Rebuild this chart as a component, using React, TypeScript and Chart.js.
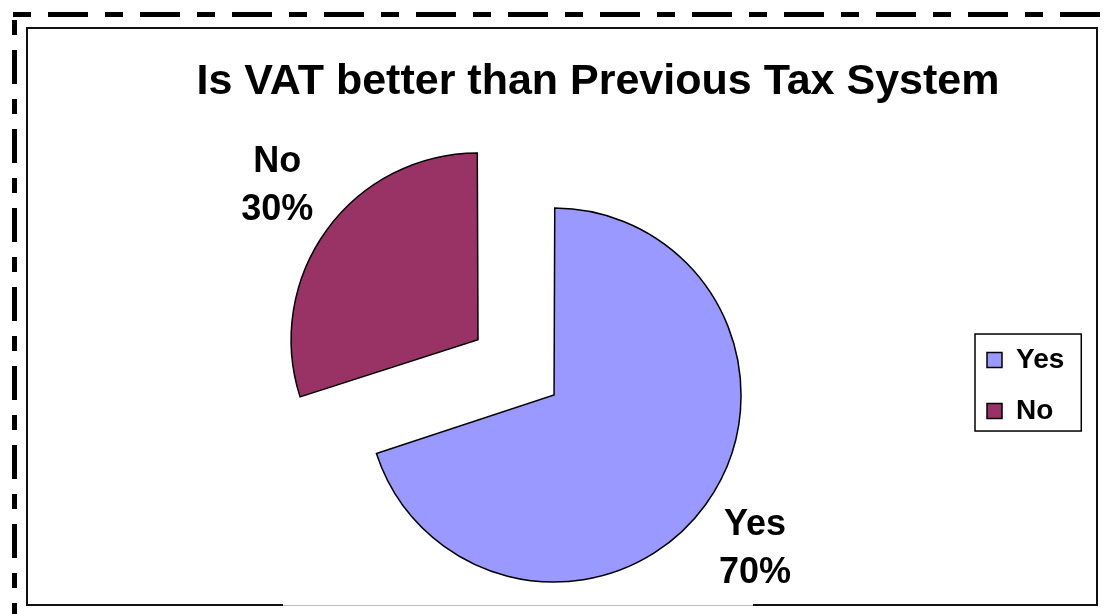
import React, { useEffect, useRef } from "react";
import { Chart, registerables } from "chart.js";

Chart.register(...registerables);

const chartTitle = "Is VAT better than Previous Tax System";
const categories = ["Yes", "No"];
const shares = [70, 30];
const sliceColors = ["#9999FF", "#993366"];
const sliceOffsets = [18, 358];

const FONT = '"Liberation Sans", Arial, Helvetica, sans-serif';

const framePlugin = {
  id: "frame",
  beforeDraw(chart: any) {
    const ctx = chart.ctx as CanvasRenderingContext2D;
    ctx.save();
    ctx.fillStyle = "#ffffff";
    ctx.fillRect(0, 0, chart.width, chart.height);
    // outer dashed frame
    ctx.strokeStyle = "#000000";
    ctx.lineWidth = 5;
    ctx.lineCap = "butt";
    ctx.setLineDash([18, 17, 40, 17]);
    ctx.beginPath();
    ctx.moveTo(13, 14.5);
    ctx.lineTo(1103, 14.5);
    ctx.stroke();
    ctx.setLineDash([15, 15, 34, 15]);
    ctx.beginPath();
    ctx.moveTo(14.5, 20);
    ctx.lineTo(14.5, 614);
    ctx.stroke();
    ctx.setLineDash([]);
    // inner box
    ctx.lineWidth = 2;
    ctx.strokeStyle = "#111111";
    ctx.beginPath();
    ctx.moveTo(283, 605);
    ctx.lineTo(27, 605);
    ctx.lineTo(27, 28);
    ctx.lineTo(1097, 28);
    ctx.lineTo(1097, 605);
    ctx.lineTo(753, 605);
    ctx.stroke();
    ctx.strokeStyle = "#bbbbbb";
    ctx.lineWidth = 1;
    ctx.beginPath();
    ctx.moveTo(283, 605.5);
    ctx.lineTo(753, 605.5);
    ctx.stroke();
    ctx.restore();
  },
};

const LABEL_GAP = 66;
const LABEL_TURN = 0.025;

const sliceLabelPlugin = {
  id: "sliceLabels",
  afterDatasetsDraw(chart: any) {
    const meta = chart.getDatasetMeta(0);
    const ctx = chart.ctx as CanvasRenderingContext2D;
    const data = chart.data.datasets[0].data as number[];
    const total = data.reduce((a, b) => a + b, 0);
    ctx.save();
    ctx.font = `bold 36px ${FONT}`;
    ctx.fillStyle = "#000000";
    ctx.textAlign = "center";
    ctx.textBaseline = "middle";
    meta.data.forEach((arc: any, i: number) => {
      const { x, y, startAngle, endAngle, outerRadius } = arc.getProps(
        ["x", "y", "startAngle", "endAngle", "outerRadius"],
        true
      );
      const mid = (startAngle + endAngle) / 2;
      const off = (arc.options.offset || 0) / 4;
      const circ = endAngle - startAngle;
      const fix = 1 - Math.sin(Math.min(Math.PI, circ));
      // exploded centre of the slice
      const ex = x + Math.cos(mid) * off;
      const ey = y + Math.sin(mid) * off;
      const r = outerRadius + off * fix + LABEL_GAP;
      const a = mid + LABEL_TURN;
      const cx = ex + Math.cos(a) * r;
      const cy = ey + Math.sin(a) * r;
      const pct = Math.round((data[i] / total) * 100) + "%";
      ctx.fillText(String(chart.data.labels[i]), cx, cy - 24);
      ctx.fillText(pct, cx, cy + 24);
    });
    ctx.restore();
  },
};

const legendBoxPlugin = {
  id: "legendBox",
  afterLayout(chart: any) {
    // widen the legend's drawing (clip) area so that the labels are not cut off
    const lg = chart.legend;
    if (lg) {
      lg.right = lg.left + 140;
      lg.width = 140;
    }
  },
  afterDraw(chart: any) {
    const lg = chart.legend;
    if (!lg || !lg.legendHitBoxes || !lg.legendHitBoxes.length) return;
    const hb = lg.legendHitBoxes;
    let l = Infinity, t = Infinity, r = -Infinity, b = -Infinity;
    hb.forEach((h: any) => {
      l = Math.min(l, h.left);
      t = Math.min(t, h.top);
      r = Math.max(r, h.left + h.width);
      b = Math.max(b, h.top + h.height);
    });
    const ctx = chart.ctx as CanvasRenderingContext2D;
    ctx.save();
    ctx.strokeStyle = "#000000";
    ctx.lineWidth = 1.5;
    ctx.strokeRect(l - 12, t - 12, r - l + 29, b - t + 18);
    ctx.restore();
  },
};

export default function App() {
  const canvasRef = useRef<HTMLCanvasElement | null>(null);

  useEffect(() => {
    if (!canvasRef.current) return;
    const chart = new Chart(canvasRef.current, {
      type: "pie",
      data: {
        labels: categories,
        datasets: [
          {
            data: shares,
            backgroundColor: sliceColors,
            borderColor: "#000000",
            borderWidth: 1.5,
            borderJoinStyle: "miter",
            offset: sliceOffsets,
            radius: 182.5,
          } as any,
        ],
      },
      options: {
        responsive: false,
        animation: false,
        events: [],
        radius: 182.5,
        layout: { padding: { left: 136.8, right: 48.8, top: 0, bottom: 0 } },
        plugins: {
          title: {
            display: true,
            text: chartTitle,
            color: "#000000",
            font: { family: FONT, size: 43, weight: "bold" },
            padding: { top: 56.6, bottom: 62.6 },
          },
          legend: {
            display: true,
            position: "right",
            fullSize: false,
            maxWidth: 95.2,
            stackWeight: 0.969,
            labels: {
              boxWidth: 15,
              boxHeight: 15,
              padding: 23,
              color: "#000000",
              font: { family: FONT, size: 28, weight: "bold" },
            },
          } as any,
          tooltip: { enabled: false },
        },
      } as any,
      plugins: [framePlugin, sliceLabelPlugin, legendBoxPlugin],
    });
    return () => chart.destroy();
  }, []);

  return (
    <div style={{ position: "absolute", left: 0, top: 0, width: 1108, height: 614, background: "#fff" }}>
      <canvas ref={canvasRef} width={1108} height={614} style={{ display: "block" }} />
    </div>
  );
}
